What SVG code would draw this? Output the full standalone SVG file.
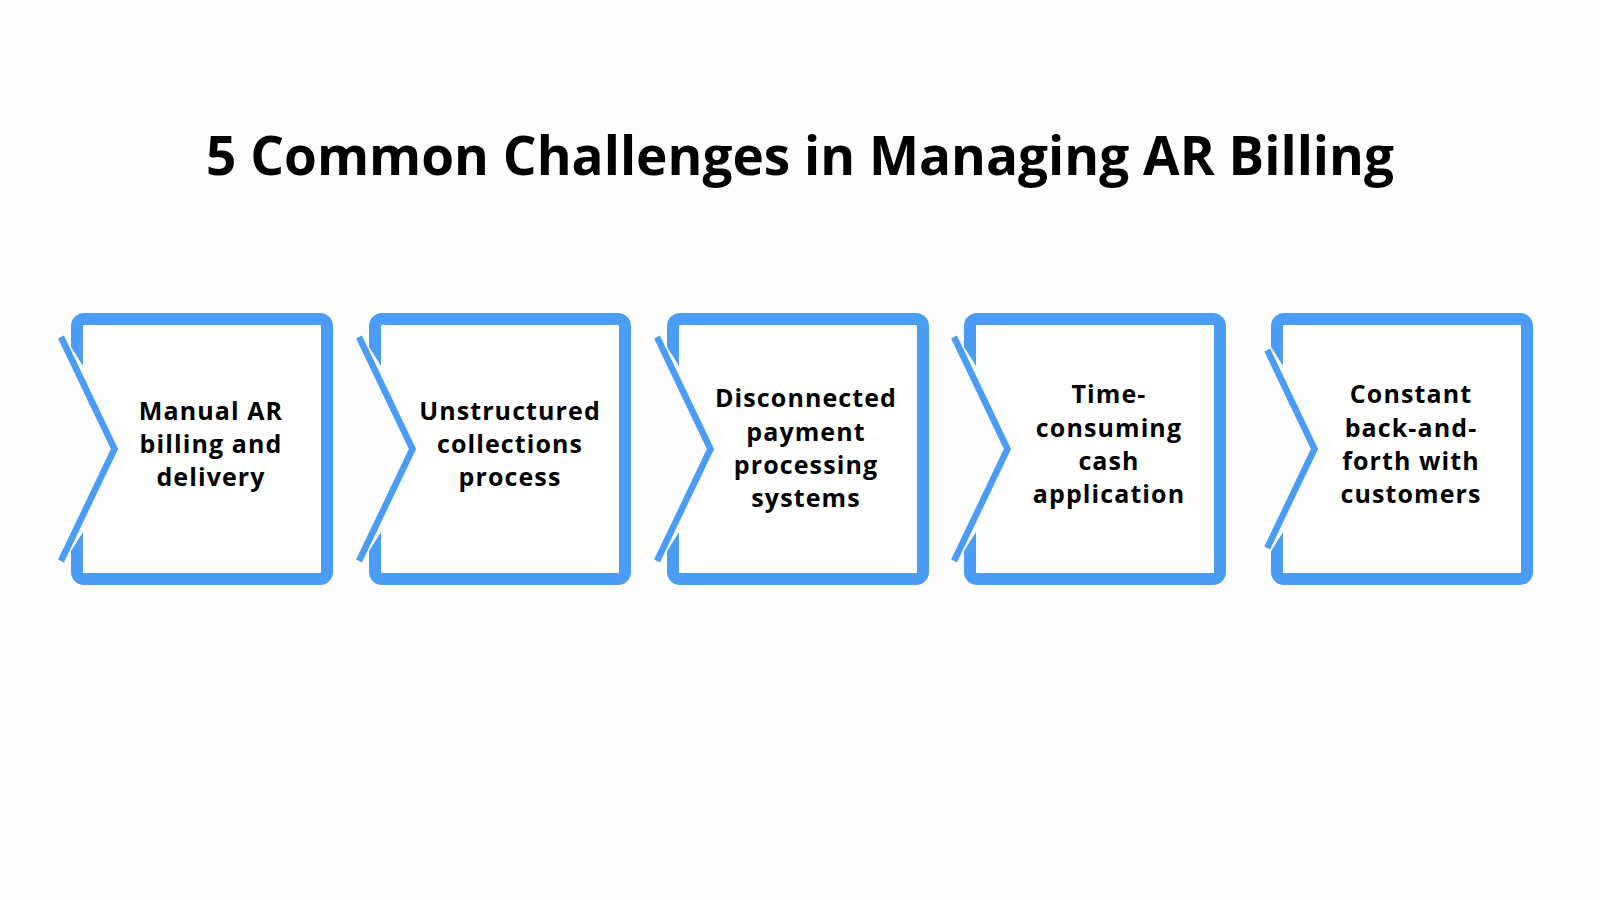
<svg xmlns="http://www.w3.org/2000/svg" width="1600" height="900" viewBox="0 0 1600 900">
  <style>
    .frame { fill: #ffffff; stroke: #4b9cf5; stroke-width: 12; }
    .gap { fill: #fdfdfd; stroke: none; }
    .chev { fill: none; stroke: #4b9cf5; stroke-width: 6.5; stroke-linejoin: miter; stroke-linecap: butt; }
    .title { font-family: "Open Sans", "Liberation Sans", sans-serif; font-weight: 700; font-size: 53px; fill: #000; text-anchor: middle; }
    .lbl { font-family: "Open Sans", "Liberation Sans", sans-serif; font-weight: 700; font-size: 25px; letter-spacing: 1.1px; fill: #000; text-anchor: middle; }
  </style>
  <defs>
    <g id="card">
      <rect class="frame" x="6" y="319" width="250" height="260" rx="7"/>
      <polygon class="gap" points="-25,330 -10.7,330 64.5,449 -10.7,568 -25,568"/>
    </g>
  </defs>
  <rect x="0" y="0" width="1600" height="900" fill="#fdfdfd"/>
  <text class="title" x="800" y="175" textLength="1188" lengthAdjust="spacingAndGlyphs">5 Common Challenges in Managing AR Billing</text>

  <g id="connectors"></g>

  <g id="node1" transform="translate(71,0)">
    <use href="#card"/>
    <polyline class="chev" points="-10,337 43.5,449 -10,561"/>
  </g>
  <g id="node1-text" class="lbl">
    <text x="211" y="420">Manual AR</text>
    <text x="211" y="453">billing and</text>
    <text x="211" y="486">delivery</text>
  </g>

  <g id="node2" transform="translate(369,0)">
    <use href="#card"/>
    <polyline class="chev" points="-10,337 43.5,449 -10,561"/>
  </g>
  <g id="node2-text" class="lbl">
    <text x="510" y="420">Unstructured</text>
    <text x="510" y="453">collections</text>
    <text x="510" y="486">process</text>
  </g>

  <g id="node3" transform="translate(667,0)">
    <use href="#card"/>
    <polyline class="chev" points="-10,337 43.5,449 -10,561"/>
  </g>
  <g id="node3-text" class="lbl">
    <text x="806" y="407">Disconnected</text>
    <text x="806" y="440.5">payment</text>
    <text x="806" y="474">processing</text>
    <text x="806" y="507">systems</text>
  </g>

  <g id="node4" transform="translate(964,0)">
    <use href="#card"/>
    <polyline class="chev" points="-10,337 43.5,449 -10,561"/>
  </g>
  <g id="node4-text" class="lbl">
    <text x="1109" y="403">Time-</text>
    <text x="1109" y="436.5">consuming</text>
    <text x="1109" y="470">cash</text>
    <text x="1109" y="503">application</text>
  </g>

  <g id="node5" transform="translate(1271,0)">
    <use href="#card"/>
    <polyline class="chev" points="-3.8,350 43.5,449 -3.8,548"/>
  </g>
  <g id="node5-text" class="lbl">
    <text x="1411" y="403">Constant</text>
    <text x="1411" y="436.5">back-and-</text>
    <text x="1411" y="470">forth with</text>
    <text x="1411" y="503">customers</text>
  </g>
</svg>
